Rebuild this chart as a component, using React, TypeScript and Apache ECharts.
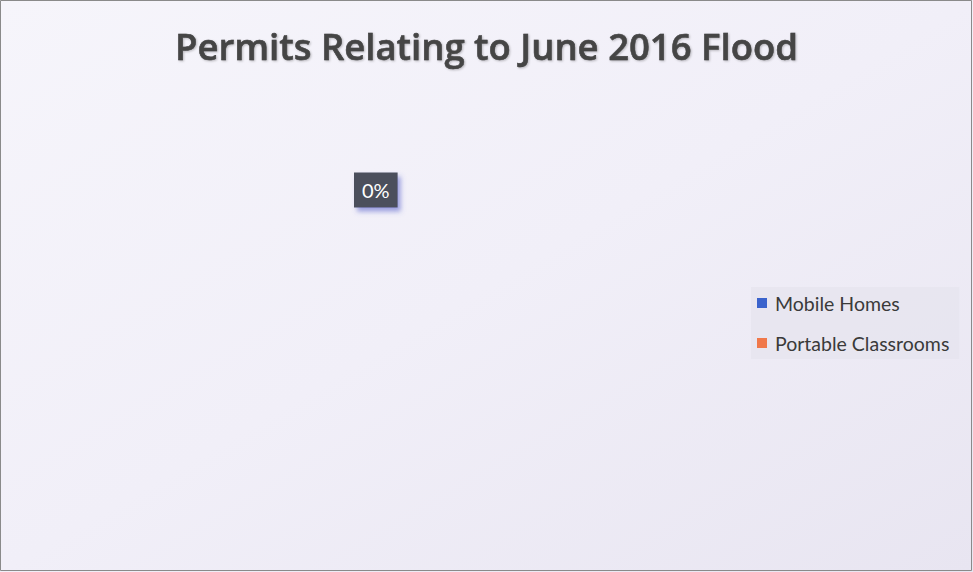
import React, { useEffect, useRef } from "react";
import * as echarts from "echarts";

const categories = ["Mobile Homes", "Portable Classrooms"];
const values = [100, 0];
const legendColors = ["#3b63cc", "#f0784a"];
const titleText = "Permits Relating to June 2016 Flood";

export default function App() {
  const ref = useRef<HTMLDivElement>(null);
  useEffect(() => {
    if (!ref.current) return;
    const chart = echarts.init(ref.current, null, { renderer: "svg" });
    const total = values.reduce((a, b) => a + b, 0);
    chart.setOption({
      animation: false,
      backgroundColor: new echarts.graphic.LinearGradient(0, 0, 1, 1, [
        { offset: 0, color: "#f6f5fb" },
        { offset: 0.5, color: "#f1eff8" },
        { offset: 1, color: "#e8e5f1" },
      ]),
      title: {
        text: titleText,
        left: "center",
        top: 22,
        textStyle: {
          fontFamily: "Open Sans",
          fontWeight: 600,
          fontSize: 36.5,
          color: "#454545",
          textBorderColor: "#2a2a2a",
          textBorderWidth: 0.5,
          textShadowColor: "rgba(0,0,0,0.25)",
          textShadowBlur: 2,
          textShadowOffsetX: 1,
          textShadowOffsetY: 1,
        },
      },
      legend: {
        orient: "vertical",
        left: 751,
        top: 287,
        itemWidth: 10,
        itemHeight: 10,
        itemGap: 20,
        padding: [6, 10, 6, 6],
        backgroundColor: "rgba(228,226,236,0.6)",
        icon: "rect",
        textStyle: { fontFamily: "Lato", fontSize: 19.5, color: "#3a3a3a", padding: [0, 0, 0, 3] },
        data: categories.map((c, i) => ({ name: c, itemStyle: { color: legendColors[i] } })),
      },
      graphic: [
        {
          type: "rect",
          shape: { x: 0.5, y: 0.5, width: 971, height: 570 },
          style: { fill: "none", stroke: "#8a8a8a", lineWidth: 1 },
        },
      ],
      series: [
        {
          type: "pie",
          center: [349, 310],
          radius: 120,
          startAngle: 90,
          clockwise: true,
          stillShowZeroSum: true,
          data: categories.map((c, i) => ({
            name: c,
            value: values[i],
            itemStyle: { color: "rgba(255,255,255,0)" },
            label: { show: values[i] === 0 },
          })),
          labelLine: { show: false, length: 0, length2: 0 },
          label: {
            position: "outside",
            formatter: (p: any) => `${Math.round((p.value / total) * 100)}%`,
            fontFamily: "Lato",
            fontSize: 20,
            color: "#ffffff",
            backgroundColor: "#4b4f5c",
            padding: [8, 8, 7, 8],
            shadowColor: "rgba(80,90,200,0.55)",
            shadowBlur: 5,
            shadowOffsetX: 3,
            shadowOffsetY: 4,
          },
          emphasis: { disabled: true },
        },
      ],
    });
    return () => chart.dispose();
  }, []);
  return (
    <div
      ref={ref}
      style={{ position: "fixed", left: 0, top: 0, width: 973, height: 572 }}
    />
  );
}
